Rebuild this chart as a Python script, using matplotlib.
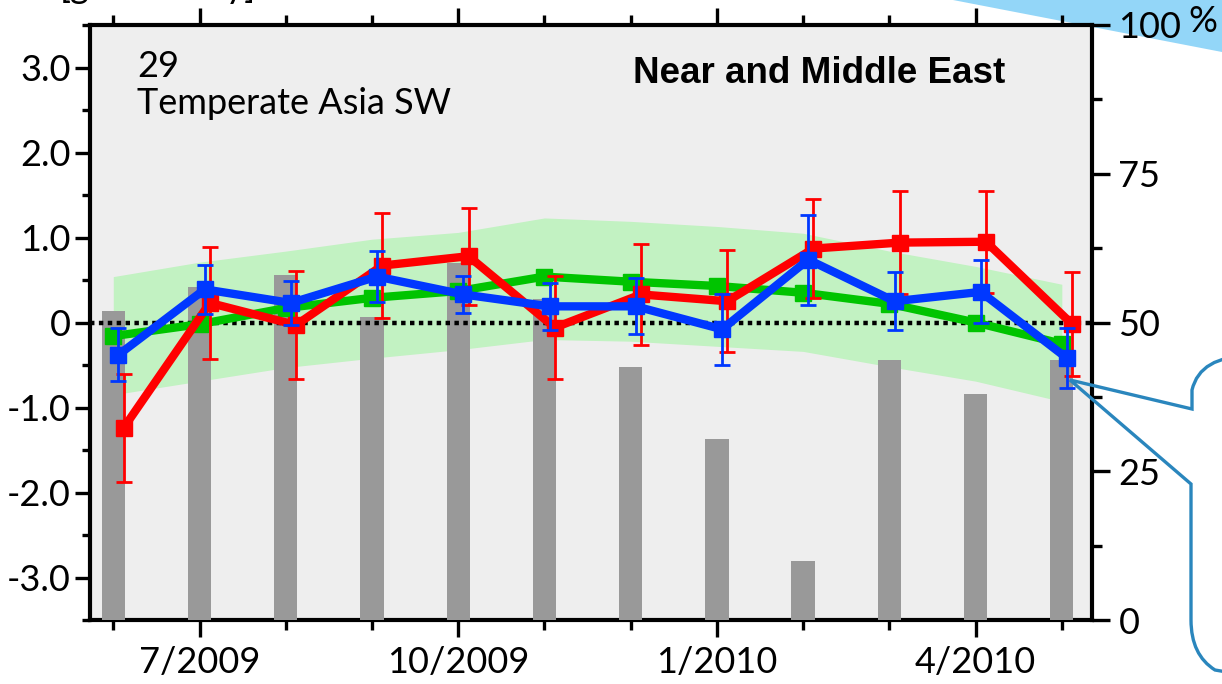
import matplotlib
matplotlib.use("Agg")
import matplotlib.pyplot as plt
from matplotlib.ticker import FixedLocator
from matplotlib.path import Path
from matplotlib.patches import PathPatch, Polygon
import numpy as np

# ---------------- data ----------------
months = ["6/2009", "7/2009", "8/2009", "9/2009", "10/2009", "11/2009",
          "12/2009", "1/2010", "2/2010", "3/2010", "4/2010", "5/2010"]
labeled_months = ["7/2009", "10/2009", "1/2010", "4/2010"]

bar_pct = [52, 56, 58, 51, 60, 54, 42.5, 30.4, 10, 43.7, 38, 43.7]

band_upper = [0.54, 0.71, 0.84, 0.98, 1.06, 1.23, 1.19, 1.13, 1.05, 0.84, 0.66, 0.45]
band_lower = [-0.85, -0.69, -0.53, -0.42, -0.32, -0.20, -0.22, -0.28, -0.34, -0.52, -0.69, -0.93]

green_vals = [-0.16, -0.02, 0.17, 0.29, 0.37, 0.54, 0.48, 0.43, 0.35, 0.22, 0.00, -0.25]

red_vals = [-1.24, 0.23, -0.03, 0.67, 0.78, -0.06, 0.33, 0.25, 0.87, 0.94, 0.95, -0.02]
red_err = [0.64, 0.66, 0.64, 0.62, 0.57, 0.61, 0.59, 0.60, 0.58, 0.61, 0.60, 0.61]

blue_vals = [-0.38, 0.39, 0.23, 0.54, 0.33, 0.19, 0.19, -0.08, 0.74, 0.25, 0.36, -0.42]
blue_err = [0.31, 0.29, 0.26, 0.30, 0.22, 0.28, 0.33, 0.42, 0.53, 0.34, 0.37, 0.35]

left_ticks = [-3, -2, -1, 0, 1, 2, 3]
left_labels = ["-3.0", "-2.0", "-1.0", "0", "1.0", "2.0", "3.0"]
right_ticks = [0, 25, 50, 75, 100]
right_labels = ["0", "25", "50", "75", "100"]

# ---------------- style ----------------
W, H = 1222, 684
TICKFONT = "Lato"
FS = 26
BG = "#eeeeee"
C_RED = "#ff0000"
C_BLUE = "#0038ff"
C_GREEN = "#00c400"
C_BAND = "#c2f2c2"
C_BAR = "#999999"

plt.rcParams["font.family"] = [TICKFONT, "DejaVu Sans"]

fig = plt.figure(figsize=(W / 100, H / 100), dpi=100)
fig.patch.set_facecolor("white")

# background decorations (behind axes)
ax_back = fig.add_axes([0, 0, 1, 1], zorder=-5)
ax_back.set_xlim(0, W)
ax_back.set_ylim(H, 0)
ax_back.axis("off")
ax_back.add_patch(Polygon([(953, 0), (W, 0), (W, 52)], closed=True,
                          facecolor="#93d6f8", edgecolor="none"))

pos = [90 / W, 1 - 620 / H, (1092 - 90) / W, (620 - 25) / H]
x = np.arange(len(months))

ax_bg = fig.add_axes(pos)
ax_bg.set_facecolor(BG)
ax_bg.set_xlim(-0.27, 11.35)
ax_bg.set_ylim(-3.5, 3.5)

# band
ax_bg.fill_between(x, band_lower, band_upper, color=C_BAND, lw=0, zorder=1)

# bars on right axis
ax2 = ax_bg.twinx()
ax2.set_ylim(0, 100)
ax2.bar(x, bar_pct, width=0.27, color=C_BAR, edgecolor="none", zorder=2)

# lines axis
axl = ax_bg.twinx()
axl.set_ylim(-3.5, 3.5)
axl.yaxis.set_visible(False)
axl.axhline(0, color="black", lw=3.2, ls=(0, (1, 1)), zorder=1)

axl.plot(x, green_vals, color=C_GREEN, lw=6, marker="s", ms=11,
         zorder=3)
axl.errorbar(x + 0.12, red_vals, yerr=red_err, color=C_RED, lw=6,
             marker="s", ms=11, elinewidth=2, capsize=5.5, capthick=2,
             zorder=4)
axl.errorbar(x + 0.06, blue_vals, yerr=blue_err, color=C_BLUE, lw=6,
             marker="s", ms=11, elinewidth=2, capsize=5.5, capthick=2,
             zorder=5)

# spines
for a in (ax2, axl):
    for s in a.spines.values():
        s.set_visible(False)
for s in ax_bg.spines.values():
    s.set_linewidth(3)
    s.set_zorder(10)

# x ticks
major_idx = [months.index(m) for m in labeled_months]
minor_idx = [i for i in range(len(months)) if i not in major_idx]
ax_bg.xaxis.set_major_locator(FixedLocator(major_idx))
ax_bg.set_xticklabels(labeled_months)
ax_bg.xaxis.set_minor_locator(FixedLocator(minor_idx))
ax_bg.tick_params(axis="x", which="major", direction="out", length=12.5,
                  width=2.4, top=True, bottom=True, labelsize=FS, pad=6)
ax_bg.tick_params(axis="x", which="minor", direction="out", length=7,
                  width=2.4, top=True, bottom=True)

# left y ticks
ax_bg.yaxis.set_major_locator(FixedLocator(left_ticks))
ax_bg.set_yticklabels(left_labels)
ax_bg.yaxis.set_minor_locator(FixedLocator(np.arange(-3.5, 3.6, 0.5)))
ax_bg.tick_params(axis="y", which="major", direction="out", length=11,
                  width=2.4, labelsize=FS, pad=3)
ax_bg.tick_params(axis="y", which="minor", direction="out", length=6,
                  width=2.4)

# right y ticks
ax2.yaxis.set_major_locator(FixedLocator(right_ticks))
ax2.set_yticklabels(right_labels)
ax2.yaxis.set_minor_locator(FixedLocator(np.arange(0, 101, 12.5)))
ax2.tick_params(axis="y", which="major", direction="out", length=13,
                width=2.4, labelsize=FS, pad=6)
ax2.tick_params(axis="y", which="minor", direction="out", length=7,
                width=2.4)

for lab in ax_bg.get_xticklabels() + ax_bg.get_yticklabels() + ax2.get_yticklabels():
    lab.set_fontfamily(TICKFONT)

# texts
ax_bg.text((137 - 90) / (1092 - 90), 1 - (77 - 25) / 595, "29",
           transform=ax_bg.transAxes, fontsize=FS, family=TICKFONT,
           va="baseline", ha="left", zorder=20)
ax_bg.text((137 - 90) / (1092 - 90), 1 - (114 - 25) / 595, "Temperate Asia SW",
           transform=ax_bg.transAxes, fontsize=FS, family=TICKFONT,
           va="baseline", ha="left", zorder=20)
ax_bg.text((633 - 90) / (1092 - 90), 1 - (83 - 25) / 595, "Near and Middle East",
           transform=ax_bg.transAxes, fontsize=26.5, family="Liberation Sans",
           weight="bold", va="baseline", ha="left", zorder=20)

fig.text(1188 / W, 1 - 22 / H, "%", fontsize=FS, family=TICKFONT,
         va="center", ha="left")
fig.text(60 / W, 1 + 2 / H, "[gC/m²/day]", fontsize=FS, family=TICKFONT,
         va="baseline", ha="left")

# callout outline (foreground)
ax_fg = fig.add_axes([0, 0, 1, 1], zorder=20)
ax_fg.set_xlim(0, W)
ax_fg.set_ylim(H, 0)
ax_fg.axis("off")
verts = [(1250, 356), (1200, 356), (1192, 390), (1192, 409),
         (1070, 380),
         (1191, 484),
         (1191, 620),
         (1191, 655), (1215, 670), (1250, 676)]
codes = [Path.MOVETO, Path.CURVE3, Path.CURVE3, Path.LINETO, Path.LINETO,
         Path.LINETO, Path.LINETO, Path.CURVE3, Path.CURVE3, Path.LINETO]
ax_fg.add_patch(PathPatch(Path(verts, codes), facecolor="none",
                          edgecolor="#2a86bd", lw=2.4))

fig.savefig("out.png", dpi=100, facecolor="white")
